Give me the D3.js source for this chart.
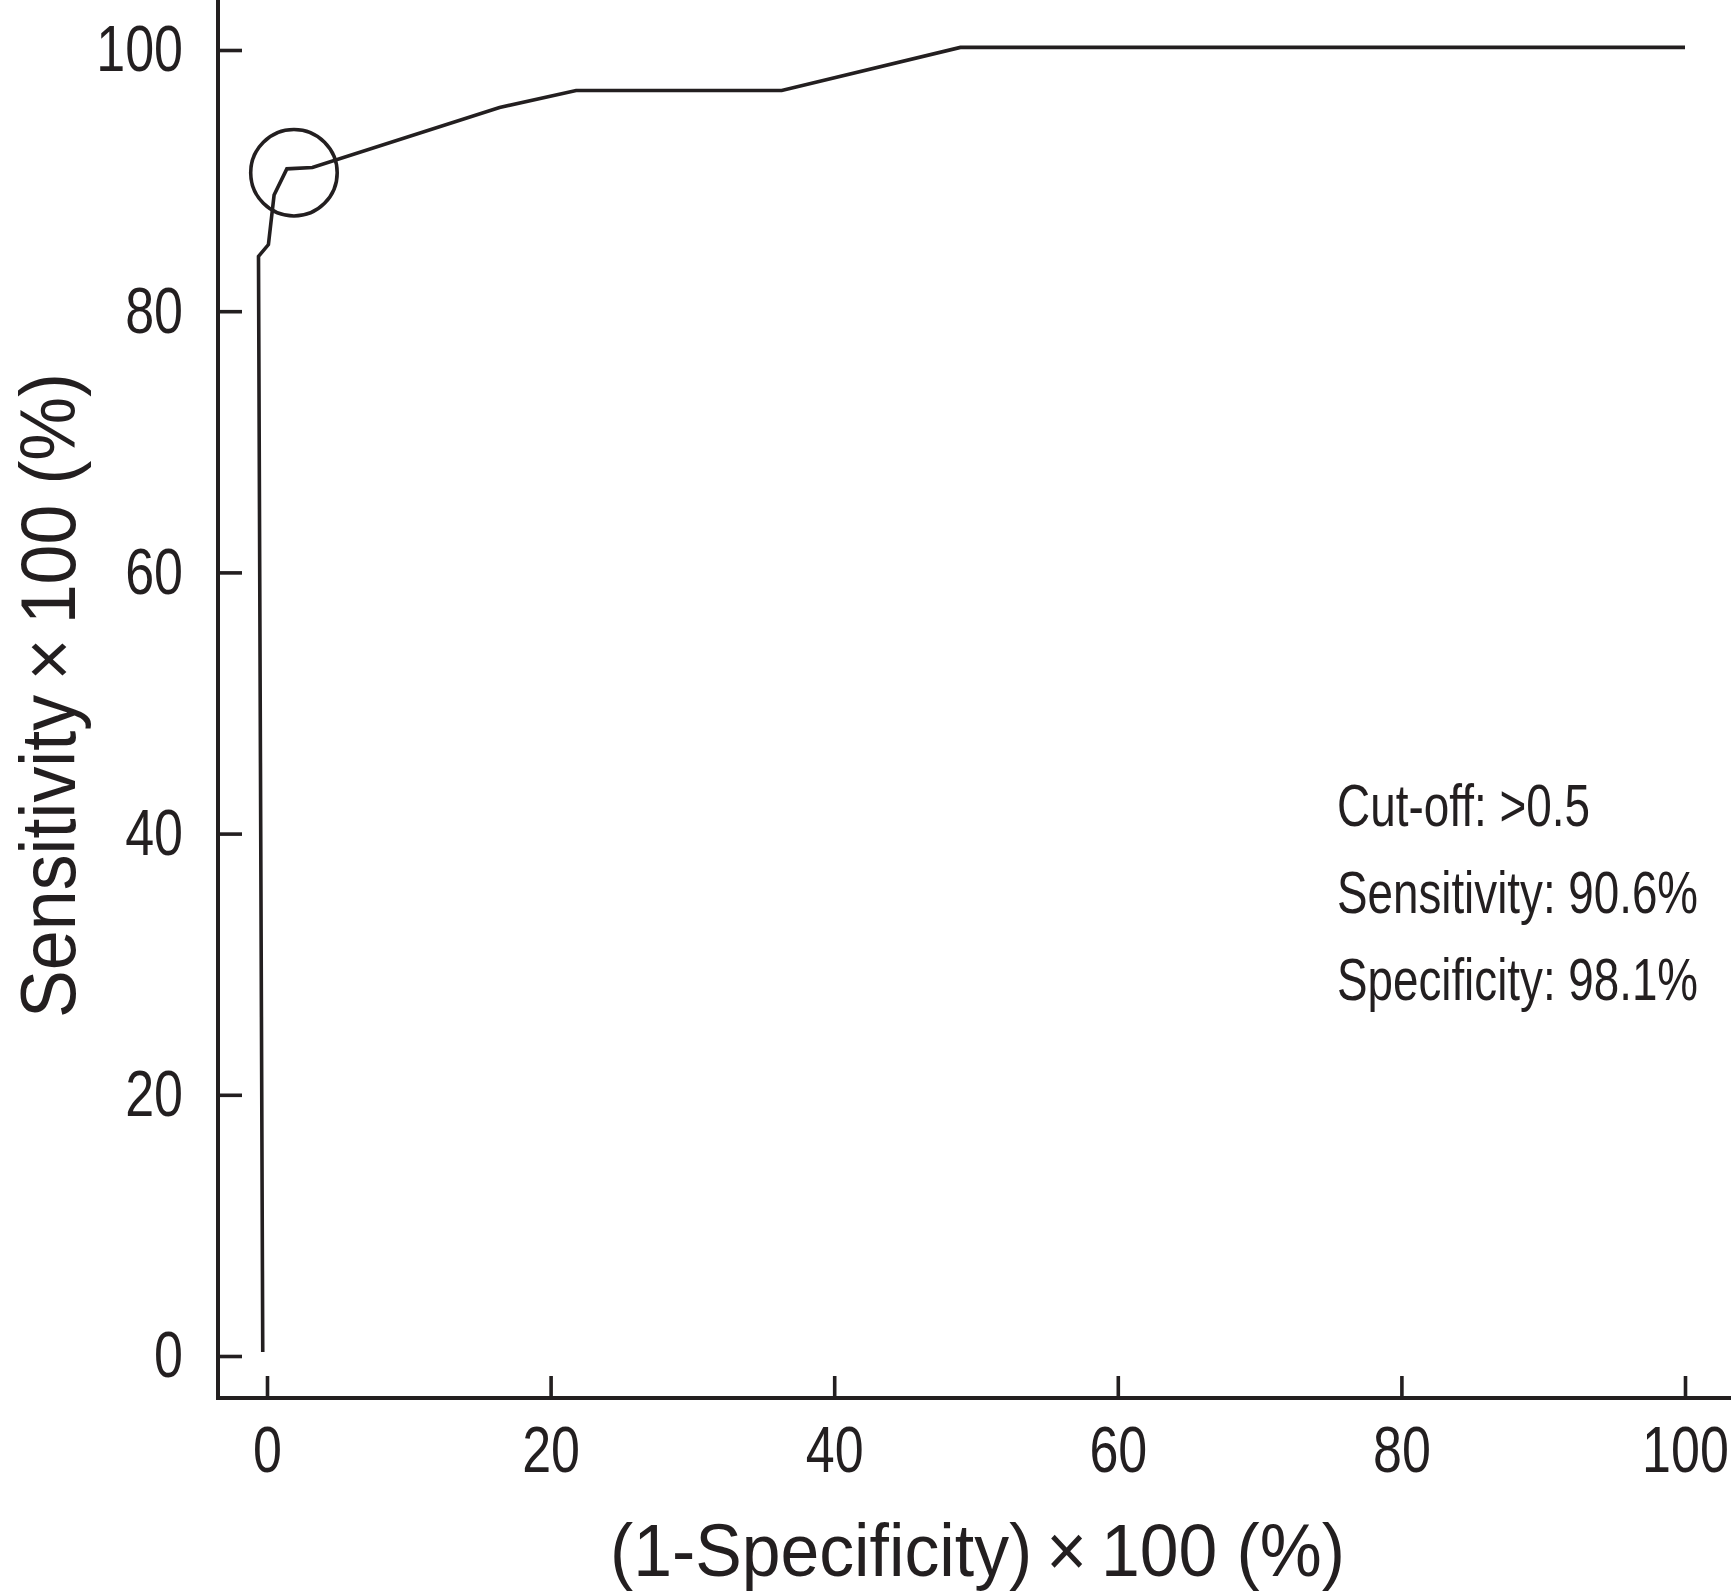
<!DOCTYPE html>
<html>
<head>
<meta charset="utf-8">
<script src="https://cdn.jsdelivr.net/npm/d3@7"></script>
<style>
  html, body { margin: 0; padding: 0; background: #fff; }
  svg { display: block; }
  text { font-family: "Liberation Sans", Arial, Helvetica, sans-serif; fill: #231f20; }
</style>
</head>
<body>
<svg id="chart" width="1731" height="1593"></svg>
<script>
// ROC curve points: 1-specificity (%) and sensitivity (%)
const fpr = [-0.3, -0.6, 0.1, 0.5, 1.4, 3.2, 16.4, 21.8, 36.3, 48.9, 100];
const tpr = [0.3, 84.2, 85.1, 88.9, 90.9, 91.0, 95.6, 96.9, 96.9, 100.2, 100.2];
// Optimal cut-off point (circled)
const cutoffPoint = [1.9, 90.6];
const xTicks = [0, 20, 40, 60, 80, 100];
const yTicks = [0, 20, 40, 60, 80, 100];
const annotations = ["Cut-off: >0.5", "Sensitivity: 90.6%", "Specificity: 98.1%"];
const xTitle = "(1-Specificity)\u2009\u00D7\u2009100 (%)";
const yTitle = "Sensitivity\u2009\u00D7\u2009100 (%)";

const ink = "#231f20";
const condense = 0.8; // reference uses a condensed grotesque
const svg = d3.select("#chart");

function squeeze(sel, factor) {
  sel.each(function () {
    const w = this.getComputedTextLength();
    d3.select(this).attr("textLength", w * factor).attr("lengthAdjust", "spacingAndGlyphs");
  });
}
function fitTo(sel, width) {
  sel.attr("textLength", width).attr("lengthAdjust", "spacingAndGlyphs");
}

const x = d3.scaleLinear().domain([0, 100]).range([267, 1685]);
const y = d3.scaleLinear().domain([0, 100]).range([1356, 50]);

const axisX0 = 218, axisY0 = 1398;

// Y axis
const yAxis = d3.axisLeft(y).tickValues(yTicks).tickSizeInner(-24).tickSizeOuter(0).tickPadding(35);
const gy = svg.append("g").attr("transform", `translate(${axisX0},0)`).call(yAxis);
gy.select(".domain").remove();
gy.selectAll(".tick line").attr("stroke", ink).attr("stroke-width", 3.6);
gy.selectAll(".tick text").attr("font-size", 65).attr("fill", ink)
  .style("font-family", '"Liberation Sans", Arial, sans-serif').call(squeeze, condense);

// X axis
const xAxis = d3.axisBottom(x).tickValues(xTicks).tickSizeInner(-22).tickSizeOuter(0).tickPadding(28);
const gx = svg.append("g").attr("transform", `translate(0,${axisY0})`).call(xAxis);
gx.select(".domain").remove();
gx.selectAll(".tick line").attr("stroke", ink).attr("stroke-width", 3.6);
gx.selectAll(".tick text").attr("font-size", 65).attr("fill", ink)
  .style("font-family", '"Liberation Sans", Arial, sans-serif').call(squeeze, condense);

// Axis lines
svg.append("line").attr("x1", axisX0).attr("x2", axisX0).attr("y1", 0).attr("y2", axisY0 + 2)
  .attr("stroke", ink).attr("stroke-width", 4);
svg.append("line").attr("x1", axisX0 - 2).attr("x2", 1731).attr("y1", axisY0).attr("y2", axisY0)
  .attr("stroke", ink).attr("stroke-width", 4);

// ROC curve
const pts = fpr.map((v, i) => [v, tpr[i]]);
const line = d3.line().x(d => x(d[0])).y(d => y(d[1]));
svg.append("path").datum(pts).attr("d", line)
  .attr("fill", "none").attr("stroke", ink).attr("stroke-width", 3.6).attr("stroke-linejoin", "miter");

// Circle around cut-off
svg.append("circle").attr("cx", x(cutoffPoint[0])).attr("cy", y(cutoffPoint[1]))
  .attr("r", (x(3.05) - x(0)))
  .attr("fill", "none").attr("stroke", ink).attr("stroke-width", 3.6);

// Annotation
const annoWidths = [253, 361, 361];
svg.append("g").selectAll("text").data(annotations).join("text")
  .attr("x", 1337).attr("y", (d, i) => 826 + i * 87)
  .attr("font-size", 60).text(d => d)
  .attr("textLength", (d, i) => annoWidths[i]).attr("lengthAdjust", "spacingAndGlyphs");

// Axis titles
svg.append("text").attr("x", 977.5).attr("y", 1576).attr("text-anchor", "middle")
  .attr("font-size", 74).text(xTitle).call(fitTo, 735);
svg.append("text").attr("transform", "translate(75,695.5) rotate(-90)").attr("text-anchor", "middle")
  .attr("font-size", 78).text(yTitle).call(fitTo, 645);
</script>
</body>
</html>
